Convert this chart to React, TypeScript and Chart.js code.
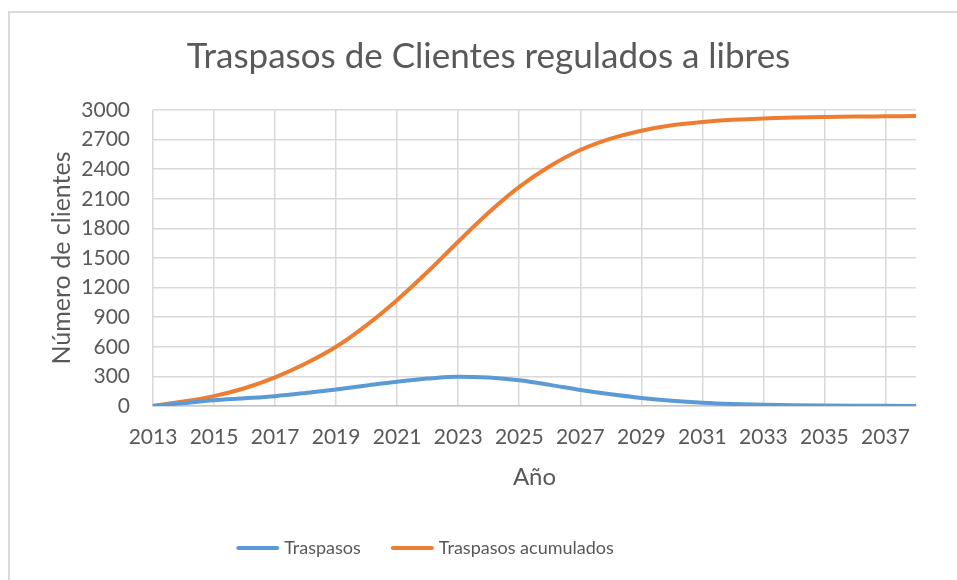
import React, { useEffect, useRef } from "react";
import { Chart, registerables } from "chart.js";

Chart.register(...registerables);

const TITLE = "Traspasos de Clientes regulados a libres";
const X_TITLE = "Año";
const Y_TITLE = "Número de clientes";
const SERIES_NAMES = ["Traspasos", "Traspasos acumulados"];
const SERIES_COLORS = ["#5B9BD5", "#ED7D31"];

const YEARS = [
  "2013", "2014", "2015", "2016", "2017", "2018", "2019", "2020", "2021",
  "2022", "2023", "2024", "2025", "2026", "2027", "2028", "2029", "2030",
  "2031", "2032", "2033", "2034", "2035", "2036", "2037", "2038",
];

const TRASPASOS = [
  0, 30, 58, 78, 100, 132, 168, 208, 246, 278, 297, 288, 260, 214, 162, 118,
  82, 54, 34, 21, 13, 8, 5, 3, 2, 1,
];

const ACUMULADOS = [
  0, 45, 100, 180, 290, 430, 600, 820, 1075, 1360, 1665, 1960, 2220, 2430,
  2595, 2710, 2790, 2845, 2878, 2900, 2915, 2924, 2930, 2934, 2936, 2938,
];

const Y_MIN = 0;
const Y_MAX = 3000;
const Y_STEP = 300;

const FONT = "Lato";
const TEXT = "#595959";
const GRID = "#d9d9d9";

const framePlugin = {
  id: "frame",
  beforeDraw(chart: any) {
    const ctx = chart.ctx;
    ctx.save();
    ctx.fillStyle = "#ffffff";
    ctx.fillRect(0, 0, chart.width, chart.height);
    ctx.strokeStyle = GRID;
    ctx.lineWidth = 2;
    ctx.strokeRect(9, 12, chart.width + 40, chart.height + 40);
    ctx.restore();
  },
};

const legendPlugin = {
  id: "lineLegend",
  afterDraw(chart: any, _args: any, opts: any) {
    const ctx = chart.ctx;
    ctx.save();
    ctx.font = `${opts.size}px ${FONT}`;
    const items = chart.data.datasets.map((ds: any) => ({
      text: ds.label as string,
      color: ds.borderColor as string,
      w: ctx.measureText(ds.label).width,
    }));
    const total =
      items.reduce((s: number, it: any) => s + opts.lineLen + opts.textGap + it.w, 0) +
      opts.itemGap * (items.length - 1);
    let x = opts.centerX - total / 2;
    const y = opts.y;
    ctx.textBaseline = "middle";
    ctx.textAlign = "left";
    for (const it of items) {
      ctx.strokeStyle = it.color;
      ctx.lineWidth = 4;
      ctx.lineCap = "round";
      ctx.beginPath();
      ctx.moveTo(x + 2, y);
      ctx.lineTo(x + opts.lineLen - 2, y);
      ctx.stroke();
      x += opts.lineLen + opts.textGap;
      ctx.fillStyle = TEXT;
      ctx.fillText(it.text, x, y);
      x += it.w + opts.itemGap;
    }
    ctx.restore();
  },
};

export default function App() {
  const ref = useRef<HTMLCanvasElement>(null);

  useEffect(() => {
    if (!ref.current) return;
    const chart = new Chart(ref.current, {
      type: "line",
      data: {
        labels: YEARS,
        datasets: [
          {
            label: SERIES_NAMES[0],
            data: TRASPASOS,
            borderColor: SERIES_COLORS[0],
            backgroundColor: SERIES_COLORS[0],
            borderWidth: 4,
            pointRadius: 0,
            cubicInterpolationMode: "monotone",
            fill: false,
          },
          {
            label: SERIES_NAMES[1],
            data: ACUMULADOS,
            borderColor: SERIES_COLORS[1],
            backgroundColor: SERIES_COLORS[1],
            borderWidth: 4,
            pointRadius: 0,
            cubicInterpolationMode: "monotone",
            fill: false,
          },
        ],
      },
      options: {
        responsive: false,
        devicePixelRatio: 1,
        animation: false,
        layout: { padding: { left: 61, right: 61, top: 0, bottom: 90.4 } },
        plugins: {
          legend: { display: false },
          tooltip: { enabled: false },
          title: {
            display: true,
            text: TITLE,
            color: TEXT,
            font: { family: FONT, size: 35, weight: "normal" },
            padding: { top: 36, bottom: 32 },
          },
          lineLegend: {
            size: 18,
            lineLen: 43,
            textGap: 5,
            itemGap: 30,
            centerX: 425,
            y: 548,
          },
        } as any,
        scales: {
          x: {
            type: "category",
            offset: false,
            afterFit: (scale: any) => {
              scale.height = 83.6;
            },
            grid: {
              color: GRID,
              lineWidth: 1.5,
              drawTicks: false,
            },
            border: { display: true, color: "#c4c4c4", width: 1.5 },
            ticks: {
              autoSkip: false,
              maxRotation: 0,
              padding: 19,
              color: TEXT,
              font: { family: FONT, size: 21 },
              callback: function (_v: any, i: number) {
                return i % 2 === 0 ? YEARS[i] : null;
              },
            },
            title: {
              display: true,
              text: X_TITLE,
              color: TEXT,
              font: { family: FONT, size: 24 },
              padding: { top: 0, bottom: -2 },
            },
          },
          y: {
            min: Y_MIN,
            max: Y_MAX,
            afterFit: (scale: any) => {
              scale.width = 92;
            },
            grid: { color: GRID, lineWidth: 1.5, drawTicks: false },
            border: { display: false },
            ticks: {
              stepSize: Y_STEP,
              padding: 23,
              color: TEXT,
              font: { family: FONT, size: 21 },
              callback: (v: any) => String(v),
            },
            title: {
              display: true,
              text: Y_TITLE,
              color: TEXT,
              font: { family: FONT, size: 25 },
              padding: { top: -14, bottom: 0 },
            },
          },
        },
      },
      plugins: [framePlugin, legendPlugin],
    });
    return () => chart.destroy();
  }, []);

  return (
    <div
      style={{
        position: "fixed",
        left: 0,
        top: 0,
        width: 957,
        height: 580,
        overflow: "hidden",
        background: "#ffffff",
      }}
    >
      <canvas
        ref={ref}
        width={977}
        height={580}
        style={{ display: "block", width: 977, height: 580 }}
      />
    </div>
  );
}
